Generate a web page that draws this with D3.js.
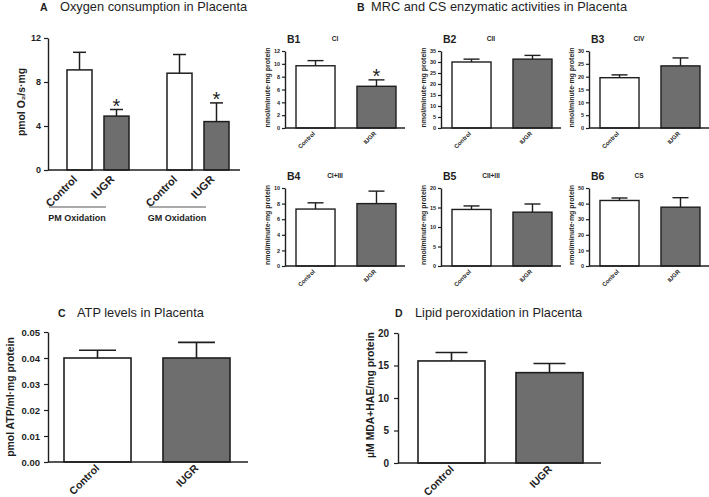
<!DOCTYPE html>
<html><head><meta charset="utf-8">
<script src="https://cdn.jsdelivr.net/npm/d3@7"></script>
<style>
body{margin:0;background:#fff}
svg text{font-family:"Liberation Sans",Arial,Helvetica,sans-serif;fill:#1e1e1e}
</style>
</head><body>
<svg id="c" width="709" height="497"></svg>
<script>
// ---------------- DATA ----------------
const conditions = ["Control", "IUGR"];

// Panel A: oxygen consumption (pmol O2/s·mg)
const aGroups = ["PM Oxidation", "GM Oxidation"];
const aMean = [[9.1, 4.9], [8.8, 4.4]];
const aSem  = [[1.6, 0.6], [1.7, 1.7]];
const aSig  = [[false, true], [false, true]];
const aTicks = [0, 4, 8, 12];

// Panel B: MRC and CS enzymatic activities
const bIds      = ["B1", "B2", "B3", "B4", "B5", "B6"];
const bEnzymes  = ["CI", "CII", "CIV", "CI+III", "CII+III", "CS"];
const bMax      = [12, 35, 30, 10, 20, 50];
const bTickStep = [2, 5, 5, 2, 5, 10];
const bControl    = [9.7, 30.0, 19.6, 7.3, 14.5, 42.0];
const bControlSem = [0.8, 1.3, 1.1, 0.8, 0.9, 1.6];
const bIUGR       = [6.5, 31.3, 24.2, 8.0, 13.8, 37.7];
const bIUGRSem    = [1.0, 1.7, 3.1, 1.6, 2.1, 6.1];
const bSig        = [true, false, false, false, false, false];

// Panel C: ATP levels
const cMean = [0.040, 0.040];
const cSem  = [0.003, 0.006];
const cTicks = [0, 0.01, 0.02, 0.03, 0.04, 0.05];

// Panel D: lipid peroxidation
const dMean = [15.7, 13.9];
const dSem  = [1.3, 1.4];
const dTicks = [0, 5, 10, 15, 20];

// ---------------- DRAWING ----------------
const svg = d3.select("#c");
const INK = "#1e1e1e";
const FILL = {Control: "#ffffff", IUGR: "#6e6e6e"};

function yAxis(y, x0, ticks, fmt, fs, tsize, pad) {
  const ax = d3.axisLeft(y).tickValues(ticks).tickFormat(fmt)
    .tickSize(tsize).tickSizeOuter(0).tickPadding(pad);
  const g = svg.append("g").attr("transform", `translate(${x0},0)`).call(ax);
  g.select(".domain").attr("stroke", INK).attr("stroke-width", 1.4);
  g.selectAll(".tick line").attr("stroke", INK).attr("stroke-width", 1.2);
  g.selectAll(".tick text").attr("font-size", fs).attr("font-weight", "bold")
    .attr("fill", INK).attr("font-family", null);
  return g;
}

function bars(data, y, capW, sw) {
  const g = svg.append("g");
  g.selectAll("line.err").data(data).join("line")
    .attr("x1", d => d.x + d.w / 2).attr("x2", d => d.x + d.w / 2)
    .attr("y1", d => y(d.mean)).attr("y2", d => y(d.mean + d.sem))
    .attr("stroke", INK).attr("stroke-width", sw);
  g.selectAll("line.cap").data(data).join("line")
    .attr("x1", d => d.x + d.w / 2 - capW / 2).attr("x2", d => d.x + d.w / 2 + capW / 2)
    .attr("y1", d => y(d.mean + d.sem)).attr("y2", d => y(d.mean + d.sem))
    .attr("stroke", INK).attr("stroke-width", sw);
  g.selectAll("rect").data(data).join("rect")
    .attr("x", d => d.x).attr("width", d => d.w)
    .attr("y", d => y(d.mean)).attr("height", d => y(0) - y(d.mean))
    .attr("fill", d => FILL[d.cond]).attr("stroke", INK).attr("stroke-width", sw);
}

function xBase(y, x0, x1) {
  svg.append("line").attr("x1", x0).attr("x2", x1).attr("y1", y(0)).attr("y2", y(0))
    .attr("stroke", INK).attr("stroke-width", 1.4);
}

function xLabels(data, y, fs, dx, dy) {
  svg.append("g").selectAll("text").data(data).join("text")
    .attr("transform", d => `translate(${d.x + d.w / 2 + dx},${y(0) + dy}) rotate(-45)`)
    .attr("text-anchor", "end").attr("font-size", fs).attr("font-weight", "bold")
    .text(d => d.cond);
}

function stars(data, y, fs) {
  svg.append("g").selectAll("text").data(data.filter(d => d.sig)).join("text")
    .attr("x", d => d.x + d.w / 2).attr("y", d => y(d.mean + d.sem) + 3)
    .attr("text-anchor", "middle").attr("font-size", fs).text("*");
}

function yTitle(text, x, yc, fs) {
  svg.append("text").attr("transform", `translate(${x},${yc}) rotate(-90)`)
    .attr("text-anchor", "middle").attr("font-size", fs).attr("font-weight", "bold")
    .text(text);
}

function panelTitle(letter, lx, tx, yb, text) {
  svg.append("text").attr("x", lx).attr("y", yb).attr("font-size", 10.5)
    .attr("font-weight", "bold").text(letter);
  svg.append("text").attr("x", tx).attr("y", yb).attr("font-size", 12.8).text(text);
}

panelTitle("A", 40, 60, 10.5, "Oxygen consumption in Placenta");
panelTitle("B", 357, 371, 10.5, "MRC and CS enzymatic activities in Placenta");
panelTitle("C", 58, 77, 316.5, "ATP levels in Placenta");
panelTitle("D", 395, 415, 316.5, "Lipid peroxidation in Placenta");

// ----- Panel A -----
{
  const y = d3.scaleLinear().domain([0, 12]).range([170, 38]);
  const gx = d3.scaleBand().domain(aGroups).range([48, 248]);
  const ix = d3.scaleBand().domain(conditions).range([19, 81]).paddingInner(0.324);
  const data = [];
  aGroups.forEach((gname, gi) => conditions.forEach((c, ci) => data.push({
    x: gx(gname) + ix(c), w: ix.bandwidth(), cond: c,
    mean: aMean[gi][ci], sem: aSem[gi][ci], sig: aSig[gi][ci]})));
  yAxis(y, 48, aTicks, d3.format("d"), 9, 4, 3);
  bars(data, y, 13, 1.5);
  xBase(y, 48, 240);
  xLabels(data, y, 11, -1.5, 10);
  stars(data, y, 20);
  yTitle("pmol O\u2082/s\u00b7mg", 25, 102, 10.4);
  aGroups.forEach(gname => {
    svg.append("line").attr("x1", gx(gname) + 1).attr("x2", gx(gname) + 58)
      .attr("y1", 207).attr("y2", 207).attr("stroke", "#555").attr("stroke-width", 1);
    svg.append("text").attr("x", gx(gname) + 29).attr("y", 221).attr("text-anchor", "middle")
      .attr("font-size", 9).attr("font-weight", "bold").text(gname);
  });
}

// ----- Panel B -----
{
  const colX = [285, 441, 589];
  const rowY = [[128, 51], [266, 188]];
  bIds.forEach((id, i) => {
    const x0 = colX[i % 3];
    const [yb, yt] = rowY[Math.floor(i / 3)];
    const y = d3.scaleLinear().domain([0, bMax[i]]).range([yb, yt]);
    const ix = d3.scaleBand().domain(conditions).range([x0 + 11, x0 + 111]).paddingInner(0.36);
    const data = [
      {x: ix("Control"), w: ix.bandwidth(), cond: "Control", mean: bControl[i], sem: bControlSem[i], sig: false},
      {x: ix("IUGR"), w: ix.bandwidth(), cond: "IUGR", mean: bIUGR[i], sem: bIUGRSem[i], sig: bSig[i]}
    ];
    yAxis(y, x0, d3.range(0, bMax[i] + 0.001, bTickStep[i]), d3.format("d"), 5.5, 3, 2);
    bars(data, y, 16, 1.4);
    xBase(y, x0, x0 + 120);
    xLabels(data, y, 6, 0, 6);
    stars(data, y, 20);
    yTitle("nmol/minute\u00b7mg protein", x0 - 15, (yb + yt) / 2 - 2, 7);
    svg.append("text").attr("x", x0 + 2).attr("y", yt - 8).attr("font-size", 10.5)
      .attr("font-weight", "bold").text(id);
    svg.append("text").attr("x", x0 + 50).attr("y", yt - 10).attr("font-size", 6.5)
      .attr("text-anchor", "middle").attr("font-weight", "bold").text(bEnzymes[i]);
  });
}

// ----- Panel C -----
{
  const y = d3.scaleLinear().domain([0, 0.05]).range([462, 332]);
  const ix = d3.scaleBand().domain(conditions).range([64, 230]).paddingInner(0.323);
  const data = conditions.map((c, i) => ({x: ix(c), w: ix.bandwidth(), cond: c, mean: cMean[i], sem: cSem[i]}));
  yAxis(y, 48, cTicks, d3.format(".2f"), 9.5, 4, 4);
  bars(data, y, 37, 1.6);
  xBase(y, 48, 248);
  xLabels(data, y, 10.5, 2.5, 7);
  yTitle("pmol ATP/ml\u00b7mg protein", 14, 397, 10.4);
}

// ----- Panel D -----
{
  const y = d3.scaleLinear().domain([0, 20]).range([463, 333]);
  const ix = d3.scaleBand().domain(conditions).range([418, 583]).paddingInner(0.316);
  const data = conditions.map((c, i) => ({x: ix(c), w: ix.bandwidth(), cond: c, mean: dMean[i], sem: dSem[i]}));
  yAxis(y, 398, dTicks, d3.format("d"), 10, 4, 5);
  bars(data, y, 32, 1.6);
  xBase(y, 398, 601);
  xLabels(data, y, 10.5, 3, 7);
  yTitle("\u00b5M MDA+HAE/mg protein", 374, 395, 10.4);
}
</script>
</body></html>
